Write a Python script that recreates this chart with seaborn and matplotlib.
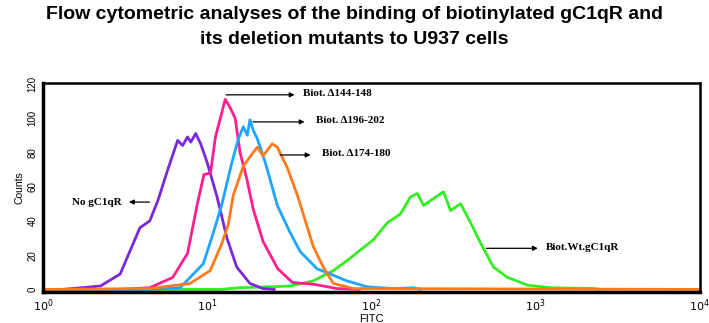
import numpy as np
import matplotlib
matplotlib.use("Agg")
import matplotlib.pyplot as plt
import seaborn as sns

# log10(FITC) positions and counts
no_log = [0.0, 0.116, 0.18, 0.35, 0.47, 0.59, 0.65, 0.70, 0.76, 0.82, 0.85, 0.88, 0.90, 0.93, 0.96, 1.00, 1.06, 1.12, 1.18, 1.26, 1.34, 1.41]
no_cnt = [0, 0, 0.5, 2, 9, 36, 40, 52, 70, 87, 84, 89, 86, 91, 85, 74, 54, 30, 13, 3.5, 0.5, 0]

d144_log = [0.0, 0.47, 0.65, 0.79, 0.88, 0.94, 0.98, 1.02, 1.05, 1.08, 1.11, 1.14, 1.17, 1.20, 1.24, 1.28, 1.34, 1.43, 1.52, 1.65, 1.79, 1.93]
d144_cnt = [0, 0, 1, 7, 21, 50, 67, 68, 89, 100, 111, 106, 100, 80, 65, 47, 28, 12, 4, 3, 0.5, 0]

d196_log = [0.0, 0.65, 0.835, 0.976, 1.037, 1.09, 1.15, 1.19, 1.22, 1.244, 1.26, 1.28, 1.305, 1.354, 1.427, 1.506, 1.567, 1.67, 1.75, 1.85, 1.976, 2.055, 2.146, 2.256, 2.30]
d196_cnt = [0, 0, 1, 15, 33, 50, 74, 88, 95, 90, 99, 93, 88, 74, 49, 33, 22, 12, 9, 5, 1.5, 1, 0.5, 1, 0]

d174_log = [0.0, 0.65, 0.896, 1.018, 1.09, 1.128, 1.159, 1.22, 1.28, 1.305, 1.34, 1.396, 1.427, 1.488, 1.549, 1.585, 1.646, 1.707, 1.768, 1.89, 4.0]
d174_cnt = [0, 0.5, 3.5, 11, 27, 38, 55, 72, 80, 83, 78, 85, 83, 71, 55, 44, 25, 13, 3.5, 0.5, 0]

wt_log = [0.0, 1.08, 1.20, 1.384, 1.506, 1.646, 1.768, 1.854, 1.933, 2.012, 2.098, 2.177, 2.238, 2.28, 2.317, 2.378, 2.439, 2.482, 2.543, 2.604, 2.665, 2.744, 2.829, 2.951, 3.091, 3.354, 3.396]
wt_cnt = [0, 0, 1, 1.5, 2, 5, 11, 17, 23, 29, 39, 44, 54, 56, 49, 53, 57, 46, 50, 39, 27, 13, 7, 2.5, 1, 0.5, 0]

xtick_pos = [1, 10, 100, 1000, 10000]
xtick_lab = [r"$10^0$", r"$10^1$", r"$10^2$", r"$10^3$", r"$10^4$"]

sns.set_style("white")
plt.rcParams['font.family'] = ['Liberation Sans', 'DejaVu Sans']
plt.rcParams['text.color'] = 'black'
plt.rcParams['axes.labelcolor'] = 'black'
plt.rcParams['xtick.color'] = 'black'
plt.rcParams['ytick.color'] = 'black'

fig = plt.figure(figsize=(7.09, 3.23), dpi=100)
ax = fig.add_axes([0.0607, 0.096, 0.9263, 0.647])

curves = [
    (wt_log, wt_cnt, "#33ee22"),
    (no_log, no_cnt, "#7a28d8"),
    (d144_log, d144_cnt, "#ff1f8f"),
    (d196_log, d196_cnt, "#1ea5ff"),
    (d174_log, d174_cnt, "#ff7a1a"),
]
for lg, cnt, col in curves:
    sns.lineplot(x=10 ** np.array(lg), y=cnt, color=col, linewidth=2, ax=ax, sort=False)

ax.set_xscale("log")
ax.set_xlim(1, 10000)
ax.set_ylim(-1.5, 120.5)
ax.set_xticks(xtick_pos)
ax.set_xticklabels(xtick_lab, fontsize=8)
ax.xaxis.set_minor_locator(matplotlib.ticker.NullLocator())
ax.set_yticks(range(0, 121, 20))
ax.set_yticklabels([str(v) for v in range(0, 121, 20)], rotation=90, va="center", fontsize=7)
ax.tick_params(axis="both", direction="out", length=3, width=1, color="black", pad=1)
ax.set_xlabel("FITC", fontsize=8, labelpad=0)
ax.set_ylabel("Counts", fontsize=7.5, labelpad=2)
for side, lw in [("left", 2.5), ("bottom", 2.5), ("top", 1.8), ("right", 1.8)]:
    ax.spines[side].set_color("black")
    ax.spines[side].set_linewidth(lw)

ann = dict(fontsize=8, fontweight="bold", family=["Liberation Serif", "DejaVu Serif"], va="center")
arrow = dict(arrowstyle="-|>", color="black", lw=0.9, mutation_scale=7)

ax.annotate("", xy=(10 ** 0.506, 51), xytext=(10 ** 0.665, 51), arrowprops=arrow)
ax.text(10 ** 0.48, 51, "No gC1qR", ha="right", **ann)

ax.annotate("", xy=(10 ** 1.549, 113.6), xytext=(10 ** 1.098, 113.6), arrowprops=arrow)
ax.text(10 ** 1.585, 114.5, "Biot. \u0394144-148", ha="left", **ann)

ax.annotate("", xy=(10 ** 1.61, 97.8), xytext=(10 ** 1.262, 97.8), arrowprops=arrow)
ax.text(10 ** 1.66, 98.5, "Biot. \u0394196-202", ha="left", **ann)

ax.annotate("", xy=(10 ** 1.646, 78.5), xytext=(10 ** 1.427, 78.5), arrowprops=arrow)
ax.text(10 ** 1.70, 79.3, "Biot. \u0394174-180", ha="left", **ann)

ax.annotate("", xy=(10 ** 3.03, 24), xytext=(10 ** 2.683, 24), arrowprops=arrow)
ax.text(10 ** 3.06, 24.5, "Biot.Wt.gC1qR", ha="left", **ann)

title_font = dict(ha="center", va="baseline", fontsize=14, fontweight="bold")
fig.text(0.5, 0.941, "Flow cytometric analyses of the binding of biotinylated gC1qR and", **title_font)
fig.text(0.5, 0.864, "its deletion mutants to U937 cells", **title_font)

fig.savefig("out.png", dpi=100)
